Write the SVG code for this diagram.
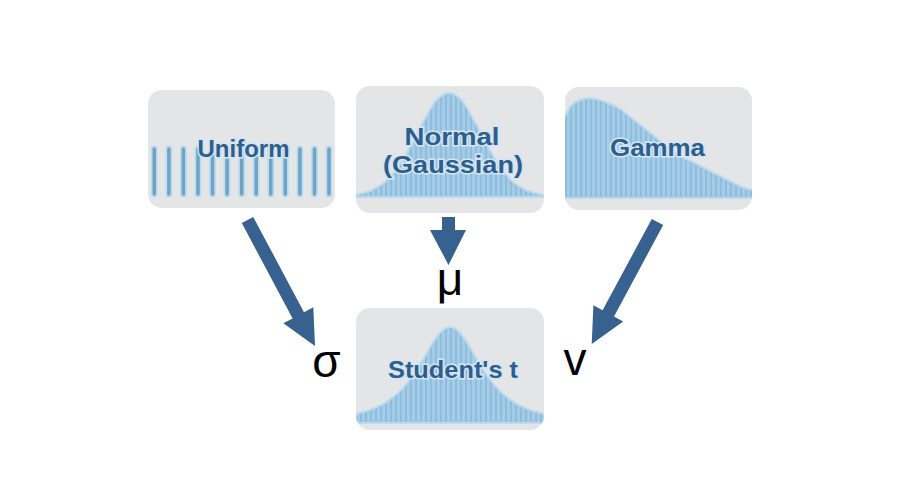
<svg xmlns="http://www.w3.org/2000/svg" width="913" height="478" viewBox="0 0 913 478">
<style>
.box{fill:#e4e5e7}
.dist{fill:url(#stripes);stroke:#bcdaee;stroke-width:2;stroke-linejoin:round}
.bar{stroke:#6ea5c7;stroke-width:3.5;stroke-linecap:round}
.barhalo{stroke:#bddbee;stroke-width:7;stroke-linecap:round}
.lbl{font-family:"Liberation Sans",Arial,sans-serif;font-weight:bold;font-size:24px;fill:#2f5d8c;stroke:#d3e6f3;stroke-width:3;paint-order:stroke;text-anchor:middle}
.arrow{fill:#37618f}
.greek{font-family:"Liberation Sans",Arial,sans-serif;font-size:46px;fill:#000;text-anchor:middle}
</style>
<defs>
<pattern id="stripes" patternUnits="userSpaceOnUse" width="5" height="10">
<rect width="5" height="10" fill="#a5cce7"/>
<rect width="2" height="10" fill="#8fbddd"/>
</pattern>
<clipPath id="cU"><rect x="148" y="90" width="187" height="118" rx="14"/></clipPath>
<clipPath id="cN"><rect x="356" y="86" width="188" height="127" rx="14"/></clipPath>
<clipPath id="cG"><rect x="565" y="87" width="187" height="123" rx="14"/></clipPath>
<clipPath id="cS"><rect x="356" y="308" width="188" height="122" rx="14"/></clipPath>
</defs>
<rect width="913" height="478" fill="#ffffff"/>

<g id="node-uniform">
<rect class="box" x="148" y="90" width="187" height="118" rx="14"/>
<g clip-path="url(#cU)">
<g class="barhalo">
<line x1="154.3" y1="149" x2="154.3" y2="194"/><line x1="168.9" y1="149" x2="168.9" y2="194"/><line x1="183.4" y1="149" x2="183.4" y2="194"/><line x1="198" y1="149" x2="198" y2="194"/><line x1="212.5" y1="149" x2="212.5" y2="194"/><line x1="227.1" y1="149" x2="227.1" y2="194"/><line x1="241.7" y1="149" x2="241.7" y2="194"/><line x1="256.2" y1="149" x2="256.2" y2="194"/><line x1="270.8" y1="149" x2="270.8" y2="194"/><line x1="285.3" y1="149" x2="285.3" y2="194"/><line x1="299.9" y1="149" x2="299.9" y2="194"/><line x1="314.5" y1="149" x2="314.5" y2="194"/><line x1="329" y1="149" x2="329" y2="194"/>
</g>
<g class="bar">
<line x1="154.3" y1="149" x2="154.3" y2="194"/><line x1="168.9" y1="149" x2="168.9" y2="194"/><line x1="183.4" y1="149" x2="183.4" y2="194"/><line x1="198" y1="149" x2="198" y2="194"/><line x1="212.5" y1="149" x2="212.5" y2="194"/><line x1="227.1" y1="149" x2="227.1" y2="194"/><line x1="241.7" y1="149" x2="241.7" y2="194"/><line x1="256.2" y1="149" x2="256.2" y2="194"/><line x1="270.8" y1="149" x2="270.8" y2="194"/><line x1="285.3" y1="149" x2="285.3" y2="194"/><line x1="299.9" y1="149" x2="299.9" y2="194"/><line x1="314.5" y1="149" x2="314.5" y2="194"/><line x1="329" y1="149" x2="329" y2="194"/>
</g>
</g>
<text class="lbl" x="243.5" y="157" textLength="92" lengthAdjust="spacingAndGlyphs">Uniform</text>
</g>

<g id="node-normal">
<rect class="box" x="356" y="86" width="188" height="127" rx="14"/>
<path class="dist" clip-path="url(#cN)" d="M352,197 L357,194.4 C362,193.5 366,192 370,191.1 C376,188 381,185.5 385,182.1 C391,176 396,170 400,164 C404,158 407,152 410,147 C414,140 417,134 420,127.7 C424,121 427,115 430,109.7 C434,103 437,99 440,97 C443,94.5 446,93 449,93 C452,93 455,94.5 458,97 C461,99 464,103 468,109.7 C471,115 474,121 478,127.7 C481,134 484,140 488,147 C491,152 494,158 498,164 C502,170 507,176 513,182.1 C517,185.5 522,188 528,191.1 C532,192 536,193.5 541,194.4 L548,197 Z"/>
<text class="lbl" x="452" y="145" textLength="95" lengthAdjust="spacingAndGlyphs">Normal</text>
<text class="lbl" x="453" y="173" textLength="140" lengthAdjust="spacingAndGlyphs">(Gaussian)</text>
</g>

<g id="node-gamma">
<rect class="box" x="565" y="87" width="187" height="123" rx="14"/>
<path class="dist" clip-path="url(#cG)" d="M562,198 L562,122 C565,116.7 568,109 571.7,105 C575,102 578,100.5 580,100 C583,99 586,98.3 588.3,98.3 C592,98.3 594,98.8 596.7,99.3 C600,100 602,100.8 605,101.7 C608,102.8 611,104 613.3,105 C617,107 619,108.5 621.7,110 C625,112.5 627,114.5 630,116.7 C633,119 636,121.5 638.3,123.3 C641,125.5 644,128 646.7,130 C650,132.5 652,134.5 655,136.7 C658,139 662,142.5 665,145 C670,149 674,152.5 678,155 C684,158.5 689,160.5 695,163 C701,166 706,169 712,172 C717,174.5 723,177.5 728,180 C733,182.5 738,185.5 742,187 C746,188.5 749,189.5 755,190 L755,198 Z"/>
<text class="lbl" x="657.5" y="156" textLength="95" lengthAdjust="spacingAndGlyphs">Gamma</text>
</g>

<g id="node-student">
<rect class="box" x="356" y="308" width="188" height="122" rx="14"/>
<path class="dist" clip-path="url(#cS)" d="M352,423 L357,413.7 C362,412.3 366,411.2 370,409.9 C376,407.5 381,405.5 385,402.9 C391,399 396,395 400,391.1 C404,387.5 407,383.5 410,379.5 C414,374.5 417,369.5 420,364.4 C424,358.5 427,353 430,347.5 C434,341 437,336 440,332.9 C443,329.5 446,327 450,327 C454,327 457,329.5 460,332.9 C463,336 466,341 470,347.5 C473,353 476,358.5 480,364.4 C483,369.5 486,374.5 490,379.5 C493,383.5 496,387.5 500,391.1 C504,395 509,399 515,402.9 C519,405.5 524,407.5 530,409.9 C534,411.2 538,412.3 543,413.7 L548,423 Z"/>
<text class="lbl" x="453" y="378" textLength="130" lengthAdjust="spacingAndGlyphs">Student's t</text>
</g>

<g id="connectors">
<polygon class="arrow" points="241.8,223.1 253.2,216.9 304.0,312.2 313.3,307.3 315,346 283.3,323.3 292.6,318.4"/>
<polygon class="arrow" points="442,217 455,217 455,230 466,230 448.5,265 430,230 442,230"/>
<polygon class="arrow" points="651.8,218.9 663.2,225.1 614.0,316.4 623.2,321.4 591.7,344 593.4,305.2 602.6,310.2"/>
<text class="greek" x="326.5" y="377">σ</text>
<text class="greek" x="450" y="295">μ</text>
<text class="greek" x="575" y="375">v</text>
</g>
</svg>
